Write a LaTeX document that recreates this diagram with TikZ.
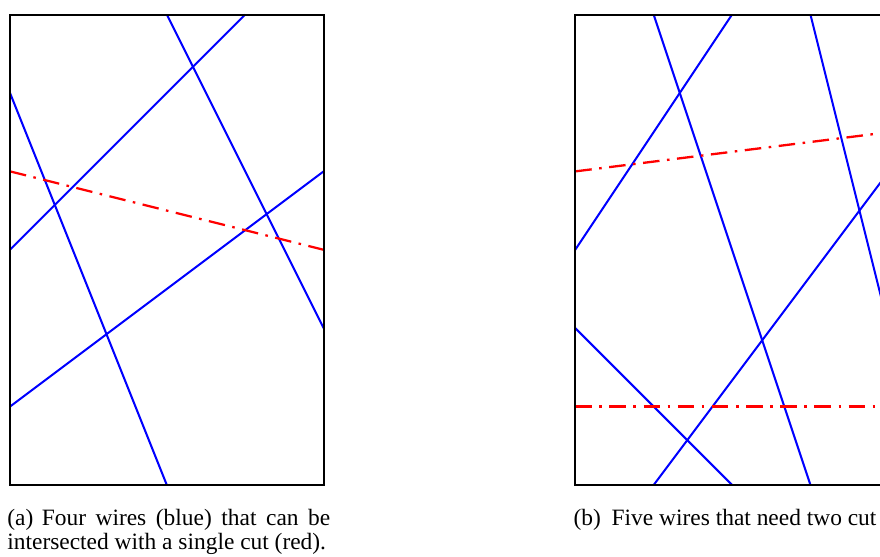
\documentclass[tikz,border=0pt]{standalone}
\usepackage{fontspec}
\setmainfont{Liberation Serif}
\newfontfamily\capfont{Liberation Serif}
\begin{document}
\begin{tikzpicture}[x=1.5cm,y=1.5cm,
  wire/.style={draw=blue, line width=1.1pt},
  cutline/.style={draw=red, line width=1.25pt, dash pattern=on 9pt off 4.1pt on 1.4pt off 4.1pt},
  frame/.style={draw=black, line width=1.1pt},
  captext/.style={anchor=base west, inner sep=0pt, align=left,
    font=\capfont\fontsize{12.75}{13.1}\selectfont}]
\useasboundingbox (-0.1276,-0.918) rectangle (11.097,6.186);
\clip (-0.1276,-0.918) rectangle (11.097,6.186);

% ---------------- panel (a)
\begin{scope}
  \coordinate (a-sw) at (0,0);
  \coordinate (a-ne) at (4,6);
  \coordinate (a1s) at (2,6); \coordinate (a1e) at (4,2);
  \coordinate (a2s) at (3,6); \coordinate (a2e) at (0,3);
  \coordinate (a3s) at (0,5); \coordinate (a3e) at (2,0);
  \coordinate (a4s) at (0,1); \coordinate (a4e) at (4,4);
  \coordinate (acs) at (0,4); \coordinate (ace) at (4,3);
  \draw[wire] (a1s) -- (a1e);
  \draw[wire] (a2s) -- (a2e);
  \draw[wire] (a3s) -- (a3e);
  \draw[wire] (a4s) -- (a4e);
  \draw[cutline] (acs) -- (ace);
  \draw[frame] (a-sw) rectangle (a-ne);
  \node[captext] (capa) at (-0.038,-0.829)
    {\makebox[175.8pt][s]{(a)\hspace{0.36em}Four wires (blue) that can be}\\
     intersected with a single cut (red).};
\end{scope}

% ---------------- panel (b)
\begin{scope}[shift={(7.21,0)}]
  \coordinate (b-sw) at (0,0);
  \coordinate (b-ne) at (4,6);
  \coordinate (b1s) at (1,6); \coordinate (b1e) at (3,0);
  \coordinate (b2s) at (2,6); \coordinate (b2e) at (0,3);
  \coordinate (b3s) at (3,6); \coordinate (b3e) at (4,2);
  \coordinate (b4s) at (1,0); \coordinate (b4e) at (4,4);
  \coordinate (b5s) at (0,2); \coordinate (b5e) at (2,0);
  \coordinate (bc1s) at (0,4); \coordinate (bc1e) at (4,4.5);
  \coordinate (bc2s) at (0,1); \coordinate (bc2e) at (4,1);
  \draw[wire] (b1s) -- (b1e);
  \draw[wire] (b2s) -- (b2e);
  \draw[wire] (b3s) -- (b3e);
  \draw[wire] (b4s) -- (b4e);
  \draw[wire] (b5s) -- (b5e);
  \draw[cutline] (bc1s) -- (bc1e);
  \draw[cutline] (bc2s) -- (bc2e);
  \draw[frame] (b-sw) rectangle (b-ne);
  \node[captext] (capb) at (-0.0255,-0.523)
    {(b)\hspace{0.46em}Five wires that need two cut};
\end{scope}
\end{tikzpicture}
\end{document}
